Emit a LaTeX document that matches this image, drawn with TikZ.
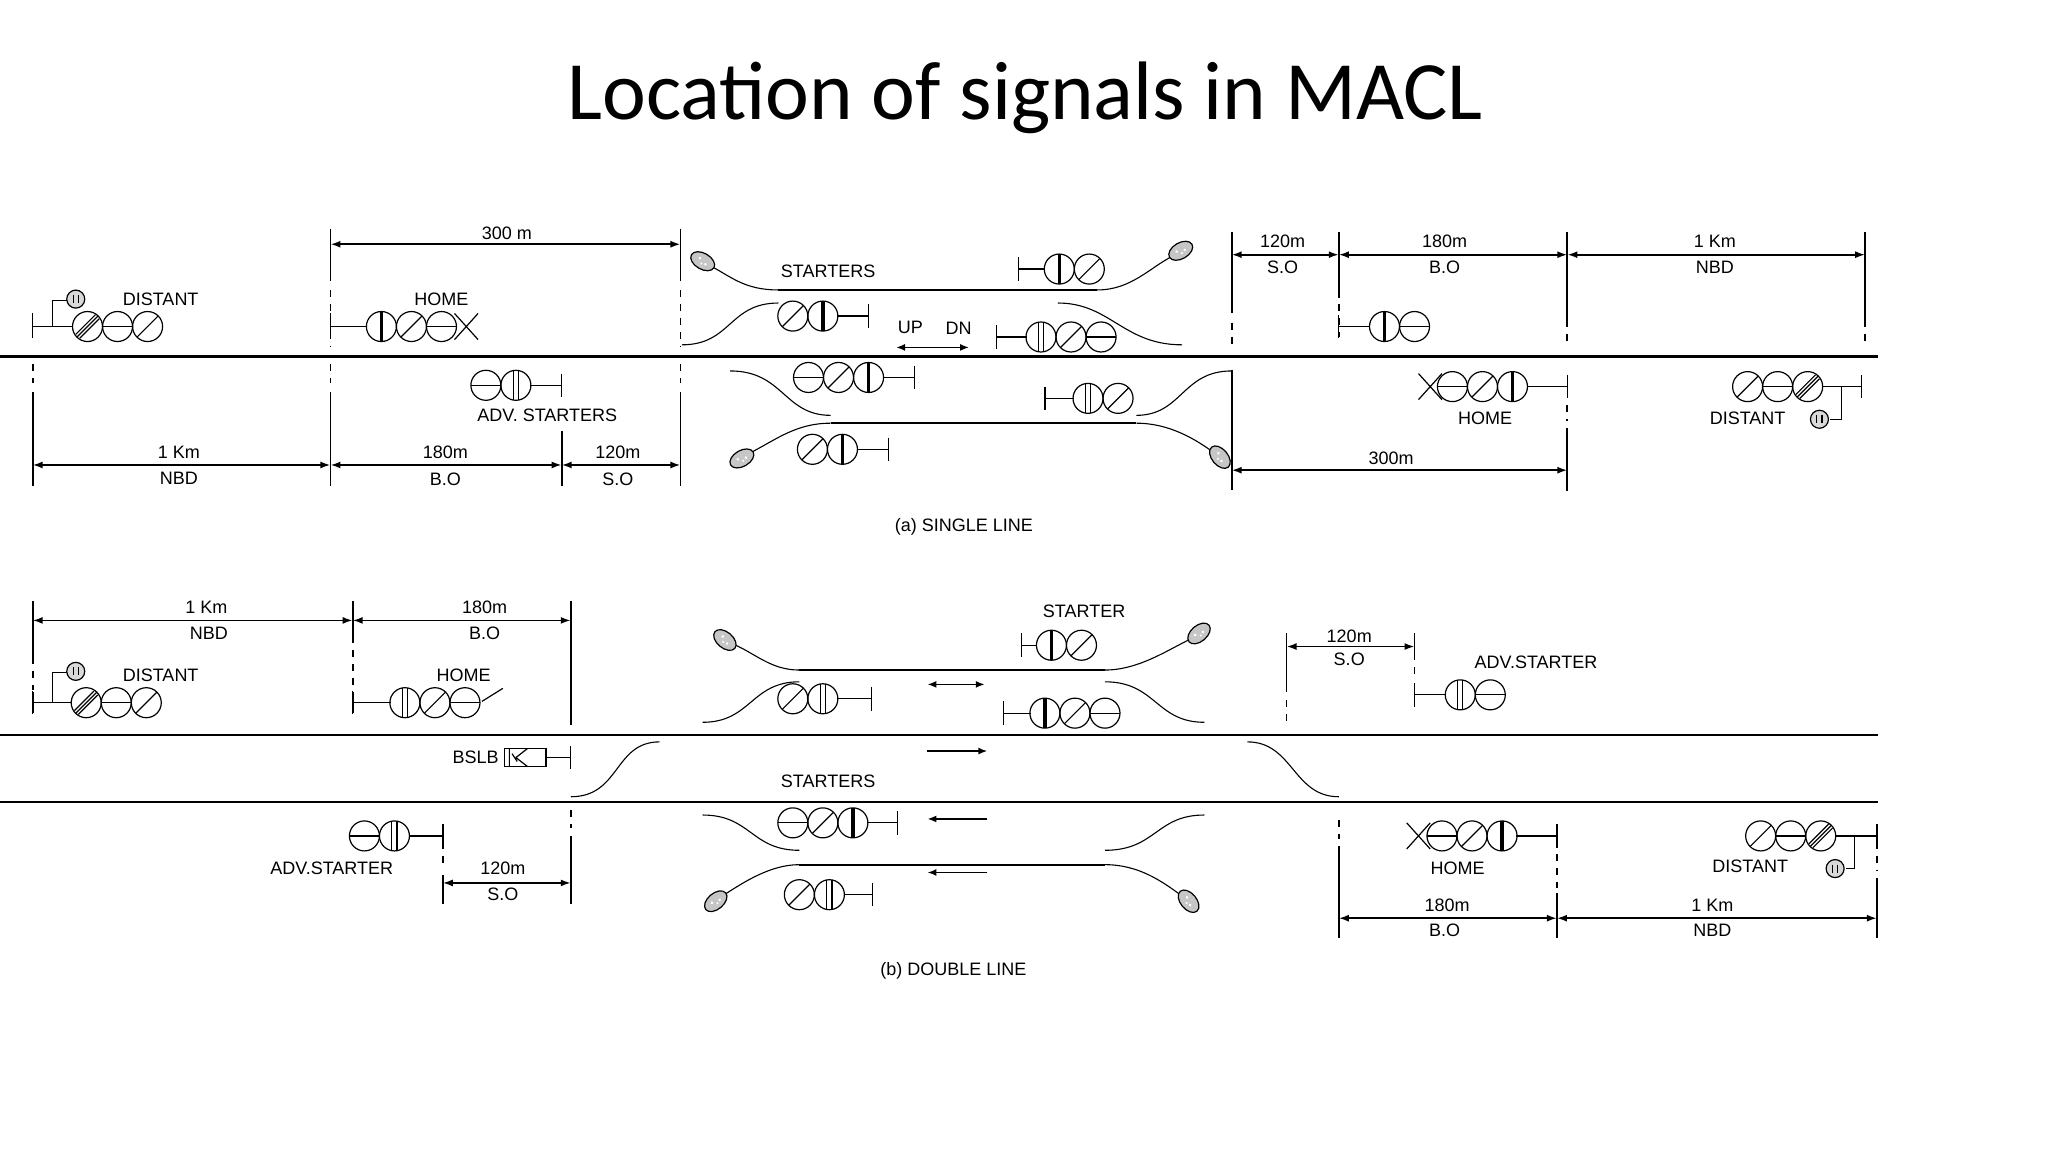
\documentclass[tikz,border=0pt]{standalone}
\usepackage{fontspec}
\setmainfont{Liberation Sans}
\newfontfamily\titlefont{Carlito}
\usetikzlibrary{arrows.meta}
\begin{document}
\begin{tikzpicture}[x=1.3061pt,y=-1.3061pt,line cap=butt,
  lbl/.style={font=\fontsize{18}{18}\selectfont,inner sep=0pt},
  trk/.style={line width=2.2pt},
  dim/.style={line width=1.8pt,{Latex[length=10pt,width=7pt]}-{Latex[length=10pt,width=7pt]}},
  ext/.style={line width=1.8pt},
  dsh/.style={line width=1.8pt,dash pattern=on 7pt off 7pt},
  sg/.style={line width=1.2pt},
  crv/.style={line width=1.1pt},
  arr/.style={line width=1.8pt,-{Latex[length=9pt,width=7pt]}},
  lS/.pic={\draw[sg] (0,0) circle[radius=15pt]; \draw[sg] (-8,8)--(8,-8);},
  lT/.pic={\draw[sg] (0,0) circle[radius=15pt]; \draw[sg] (-9,6)--(6,-9) (-6,9)--(9,-6) (-8,8)--(8,-8);},
  lH/.pic={\draw[sg] (0,0) circle[radius=15pt]; \draw[sg] (-11.5,0)--(11.5,0);},
  lV/.pic={\draw[sg] (0,0) circle[radius=15pt]; \draw[line width=3.5pt] (0,-11.5)--(0,11.5);},
  lD/.pic={\draw[sg] (0,0) circle[radius=15pt]; \draw[sg] (-2,-11.5)--(-2,11.5) (2,-11.5)--(2,11.5);},
  lX/.pic={\draw[sg] (-9,-10)--(9,10) (-9,10)--(9,-10);},
  lSl/.pic={\draw[sg] (-4,4)--(12,-6);},
  sm/.pic={\draw[sg,fill=gray!30] (0,0) circle[radius=9pt]; \draw[sg] (-2,-3)--(-2,3) (2,-3)--(2,3);},
  buf/.pic={\draw[sg,fill=gray!45] (0,0) ellipse (13pt and 8pt); \fill[white] (-3,-1) circle[radius=1.5pt] (3,1) circle[radius=1.5pt] (0,2) circle[radius=1.2pt];}
]
\useasboundingbox (0,0) rectangle (1568,882);

\node[font=\titlefont\fontsize{83}{83}\selectfont] (title) at (785,75) {Location of signals in MACL};

% ---------------- (a) single line
\draw[trk] (0,273) -- (1438,273);
% extension lines
\draw[ext] (253,175) -- (253,215); \draw[dsh] (253,222) -- (253,266);
\draw[ext] (521,175) -- (521,215); \draw[dsh] (521,222) -- (521,266);
\draw[dsh] (25,279) -- (25,293); \draw[ext] (25,300) -- (25,372);
\draw[dsh] (253,279) -- (253,293); \draw[ext] (253,300) -- (253,372);
\draw[dsh] (521,279) -- (521,293); \draw[ext] (521,300) -- (521,372);
\draw[ext] (430,330) -- (430,372);
\draw[dim] (253,187) -- (521,187);
\node[lbl] (a300) at (388,179) {300 m};
\draw[dim] (25,356) -- (253,356);
\draw[dim] (253,356) -- (430,356);
\draw[dim] (430,356) -- (521,356);
\node[lbl] (a1km) at (137,346) {1 Km}; \node[lbl] (anbd) at (137,366) {NBD};
\node[lbl] (a180) at (341,346) {180m}; \node[lbl] (abo) at (341,367) {B.O};
\node[lbl] (a120) at (473,346) {120m}; \node[lbl] (aso) at (473,367) {S.O};

% distant (left)
\draw[sg] (25,240)--(25,259) (25,250)--(56,250) (40,250)--(40,230)--(51,230);
\pic at (58,229) {sm};
\pic at (67,250) {lT}; \pic at (90,250) {lH}; \pic at (113,250) {lS};
\node[lbl] (adist) at (123,229) {DISTANT};
% home (left)
\draw[sg] (253,240)--(253,259) (253,250)--(281,250);
\pic at (292,250) {lV}; \pic at (315,250) {lS}; \pic at (338,250) {lH}; \pic at (357,250) {lX};
\node[lbl] (ahome) at (338,229) {HOME};
% adv starters
\pic at (372,295) {lH}; \pic at (395,295) {lD};
\draw[sg] (406,295)--(430,295) (430,286)--(430,304);
\node[lbl] (aadv) at (419,318) {ADV. STARTERS};

% loop above
\draw[trk] (596,222) -- (840,222);
\draw[crv] (596,222) .. controls (570,222) and (560,212) .. (543,203);
\pic[rotate=-30] at (538,200) {buf};
\draw[crv] (840,222) .. controls (866,222) and (880,205) .. (898,196);
\pic[rotate=30] at (904,192) {buf};
\draw[crv] (522,264) .. controls (560,264) and (558,232) .. (596,232);
\draw[crv] (810,232) .. controls (850,232) and (860,264) .. (905,264);
\node[lbl] (astart) at (634,208) {STARTERS};
\pic at (607,242) {lS}; \pic at (630,242) {lV};
\draw[sg] (641,242)--(665,242) (665,233)--(665,251);
\draw[sg] (780,197)--(780,215) (780,206)--(800,206);
\pic at (811,206) {lV}; \pic at (834,206) {lS};
\node[lbl] (aup) at (697,251) {UP};
\node[lbl] (adn) at (734,251) {DN};
\draw[line width=1.8pt,{Latex[length=9pt,width=7pt]}-{Latex[length=9pt,width=7pt]}] (686,266) -- (742,266);
\draw[sg] (763,249)--(763,267) (763,258)--(786,258);
\pic at (797,258) {lD}; \pic at (820,258) {lS}; \pic at (843,258) {lH};

% loop below
\draw[trk] (636,324) -- (870,324);
\draw[crv] (636,324) .. controls (610,324) and (595,336) .. (574,347);
\pic[rotate=30] at (568,351) {buf};
\draw[crv] (870,324) .. controls (895,324) and (915,336) .. (930,347);
\pic[rotate=-50] at (934,350) {buf};
\draw[crv] (559,284) .. controls (600,284) and (600,318) .. (636,318);
\draw[crv] (870,318) .. controls (905,318) and (905,284) .. (943,284);
\pic at (619,289) {lH}; \pic at (642,289) {lS}; \pic at (665,289) {lV};
\draw[sg] (676,289)--(700,289) (700,280)--(700,298);
\draw[sg] (800,296)--(800,314) (800,305)--(822,305);
\pic at (833,305) {lD}; \pic at (856,305) {lS};
\pic at (622,344) {lS}; \pic at (645,344) {lV};
\draw[sg] (656,344)--(680,344) (680,335)--(680,353);

% right side (a)
\draw[ext] (943,178) -- (943,240); \draw[dsh] (943,247) -- (943,266);
\draw[ext] (943,283) -- (943,375);
\draw[ext] (1025,178) -- (1025,228); \draw[dsh] (1025,233) -- (1025,258);
\draw[ext] (1200,178) -- (1200,250); \draw[dsh] (1200,256) -- (1200,266);
\draw[ext] (1428,178) -- (1428,250); \draw[dsh] (1428,256) -- (1428,266);
\draw[dim] (943,195) -- (1025,195);
\draw[dim] (1025,195) -- (1200,195);
\draw[dim] (1200,195) -- (1428,195);
\node[lbl] (b120) at (982,185) {120m}; \node[lbl] (bso) at (982,205) {S.O};
\node[lbl] (b180) at (1106,185) {180m}; \node[lbl] (bbo) at (1106,205) {B.O};
\node[lbl] (b1km) at (1313,185) {1 Km}; \node[lbl] (bnbd) at (1313,205) {NBD};
\draw[sg] (1025,241)--(1025,259) (1025,250)--(1049,250);
\pic at (1060,250) {lV}; \pic at (1083,250) {lH};
% home right
\pic at (1095,296) {lX}; \pic at (1112,296) {lH}; \pic at (1135,296) {lS}; \pic at (1158,296) {lV};
\draw[sg] (1169,296)--(1200,296) (1200,287)--(1200,305);
\node[lbl] (bhome) at (1137,320) {HOME};
\draw[dsh] (1200,310) -- (1200,322); \draw[ext] (1200,328) -- (1200,376);
\draw[dim] (943,360) -- (1200,360);
\node[lbl] (b300) at (1065,351) {300m};
% distant right
\pic at (1338,296) {lS}; \pic at (1361,296) {lH}; \pic at (1384,296) {lT};
\draw[sg] (1395,296)--(1425,296) (1425,287)--(1425,305) (1410,296)--(1410,321)--(1401,321);
\pic at (1393,321) {sm};
\node[lbl] (bdist) at (1338,320) {DISTANT};
\node[lbl] (capa) at (738,403) {(a) SINGLE LINE};

% ---------------- (b) double line
\draw[trk] (0,563) -- (1438,563);
\draw[trk] (0,614) -- (1438,614);
\draw[ext] (25,460) -- (25,508); \draw[dsh] (25,514) -- (25,528); \draw[ext] (25,530)--(25,546);
\draw[ext] (270,460) -- (270,492); \draw[dsh] (270,498) -- (270,528); \draw[ext] (270,530)--(270,546);
\draw[ext] (437,460) -- (437,555);
\draw[dim] (25,475) -- (270,475);
\draw[dim] (270,475) -- (437,475);
\node[lbl] (c1km) at (158,465) {1 Km}; \node[lbl] (cnbd) at (160,485) {NBD};
\node[lbl] (c180) at (371,465) {180m}; \node[lbl] (cbo) at (371,485) {B.O};
% distant
\draw[sg] (25,529)--(25,547) (25,538)--(55,538) (40,538)--(40,515)--(51,515);
\pic at (58,514) {sm};
\pic at (66,538) {lT}; \pic at (89,538) {lH}; \pic at (112,538) {lS};
\node[lbl] (cdist) at (123,517) {DISTANT};
% home
\draw[sg] (270,529)--(270,547) (270,538)--(299,538);
\pic at (310,538) {lD}; \pic at (333,538) {lS}; \pic at (356,538) {lH}; \pic at (373,533) {lSl};
\node[lbl] (chome) at (355,517) {HOME};
% BSLB
\node[lbl,anchor=east] (cbslb) at (382,580) {BSLB};
\draw[sg] (386,573) rectangle (418,587);
\draw[sg] (390,573)--(390,587) (395,580)--(404,573) (395,580)--(404,587) (392,577)--(396,583);
\draw[sg] (418,580)--(437,580) (437,571)--(437,589);
\draw[crv] (437,610) .. controls (475,610) and (470,568) .. (505,568);
\draw[crv] (955,568) .. controls (990,568) and (990,610) .. (1025,610);
\draw[dsh] (437,620) -- (437,634); \draw[ext] (437,640) -- (437,692);
% adv starter lower-left
\pic at (279,640) {lH}; \pic at (302,640) {lD};
\draw[sg] (313,640)--(339,640);
\draw[ext] (339,631) -- (339,650); \draw[dsh] (339,655)--(339,665); \draw[ext] (339,670)--(339,692);
\node[lbl] (cadv) at (254,665) {ADV.STARTER};
\draw[dim] (339,676) -- (437,676);
\node[lbl] (c120) at (385,665) {120m}; \node[lbl] (cso) at (385,685) {S.O};

% upper loop (b)
\draw[trk] (612,513) -- (846,513);
\draw[crv] (612,513) .. controls (590,513) and (578,500) .. (561,493);
\pic[rotate=-40] at (555,490) {buf};
\draw[crv] (846,513) .. controls (872,513) and (895,497) .. (912,489);
\pic[rotate=40] at (918,485) {buf};
\draw[crv] (538,553) .. controls (575,553) and (575,522) .. (612,522);
\draw[crv] (846,522) .. controls (885,522) and (885,553) .. (922,553);
\node[lbl] (cstart) at (830,468) {STARTER};
\draw[sg] (782,485)--(782,503) (782,494)--(794,494);
\pic at (805,494) {lV}; \pic at (828,494) {lS};
\pic at (607,535) {lS}; \pic at (630,535) {lD};
\draw[sg] (641,535)--(667,535) (667,526)--(667,544);
\draw[sg] (768,537)--(768,555) (768,546)--(789,546);
\pic at (800,546) {lV}; \pic at (823,546) {lS}; \pic at (846,546) {lH};
\draw[line width=1.8pt,{Latex[length=9pt,width=7pt]}-{Latex[length=9pt,width=7pt]}] (710,524) -- (754,524);
\draw[arr] (710,575) -- (756,575);
\node[lbl] (cstarts) at (634,598) {STARTERS};

% lower loop (b)
\draw[trk] (612,662) -- (846,662);
\draw[crv] (538,624) .. controls (575,624) and (575,651) .. (612,651);
\draw[crv] (846,651) .. controls (885,651) and (885,624) .. (922,624);
\draw[crv] (612,662) .. controls (590,662) and (570,675) .. (553,686);
\pic[rotate=40] at (548,690) {buf};
\draw[crv] (846,662) .. controls (872,662) and (890,675) .. (905,686);
\pic[rotate=-50] at (910,690) {buf};
\pic at (607,630) {lH}; \pic at (630,630) {lS}; \pic at (653,630) {lV};
\draw[sg] (664,630)--(687,630) (687,621)--(687,639);
\draw[arr] (756,627) -- (710,627);
\draw[arr] (756,668) -- (710,668);
\pic at (612,685) {lS}; \pic at (635,685) {lD};
\draw[sg] (646,685)--(668,685) (668,676)--(668,694);

% upper right (b)
\draw[ext] (985,485) -- (985,530); \draw[dsh] (985,536) -- (985,556);
\draw[ext] (1083,485) -- (1083,505); \draw[dsh] (1083,511) -- (1083,521);
\draw[dim] (985,495) -- (1083,495);
\node[lbl] (d120) at (1033,487) {120m}; \node[lbl] (dso) at (1033,505) {S.O};
\node[lbl] (dadv) at (1176,507) {ADV.STARTER};
\draw[sg] (1083,523)--(1083,541) (1083,532)--(1107,532);
\pic at (1118,532) {lD}; \pic at (1141,532) {lH};

% lower right (b)
\draw[dsh] (1025,628) -- (1025,642); \draw[ext] (1025,648) -- (1025,718);
\pic at (1086,640) {lX}; \pic at (1104,640) {lH}; \pic at (1127,640) {lS}; \pic at (1150,640) {lV};
\draw[sg] (1161,640)--(1192,640) (1192,631)--(1192,649);
\draw[dsh] (1192,654) -- (1192,680); \draw[ext] (1192,684) -- (1192,718);
\node[lbl] (dhome) at (1116,665) {HOME};
\draw[dim] (1025,703) -- (1192,703);
\draw[dim] (1192,703) -- (1437,703);
\node[lbl] (d180) at (1108,693) {180m}; \node[lbl] (dbo) at (1106,712) {B.O};
\node[lbl] (d1km) at (1311,693) {1 Km}; \node[lbl] (dnbd) at (1311,712) {NBD};
\pic at (1348,640) {lS}; \pic at (1371,640) {lH}; \pic at (1394,640) {lT};
\draw[sg] (1405,640)--(1437,640) (1420,640)--(1420,665)--(1413,665);
\draw[ext] (1437,631) -- (1437,650); \draw[dsh] (1437,655)--(1437,667); \draw[ext] (1437,672)--(1437,718);
\pic at (1405,665) {sm};
\node[lbl] (ddist) at (1340,663) {DISTANT};
\node[lbl] (capb) at (730,743) {(b) DOUBLE LINE};
\end{tikzpicture}
\end{document}
